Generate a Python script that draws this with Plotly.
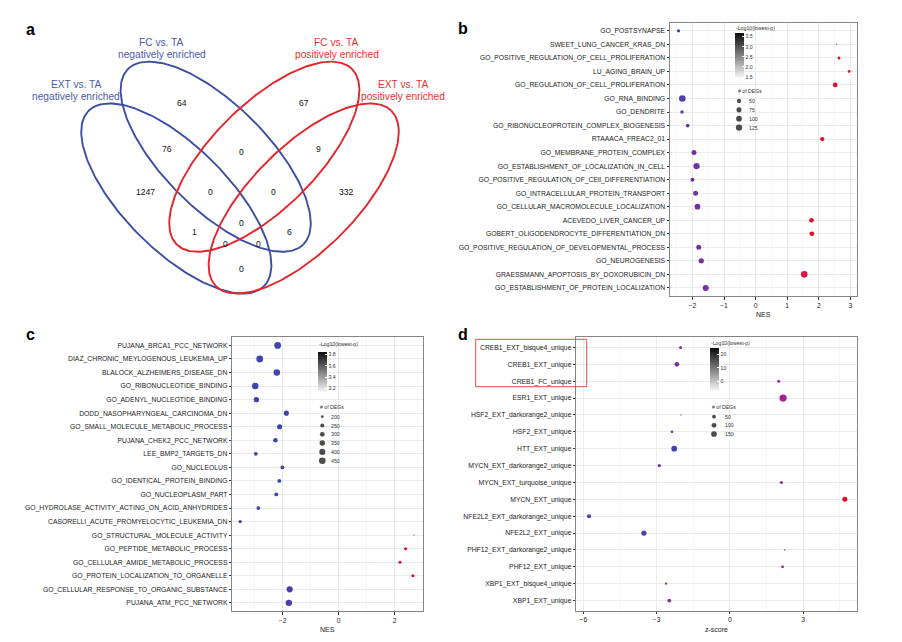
import numpy as np
import plotly.graph_objects as go

W, H = 902, 642
FONT = "Liberation Sans, Arial, Helvetica, sans-serif"

# ---------------- Panel a : Venn ----------------
venn_counts = [64, 67, 76, 0, 9, 1247, 0, 0, 332, 0, 1, 6, 0, 0, 0]
venn_count_pos = [(182.3, 103.3), (304.3, 103.3), (166.7, 149), (241.7, 151.7), (318.3, 149),
                  (145, 191.7), (210, 192.3), (273.3, 192.3), (346, 191.7), (241.7, 222.7),
                  (194, 231.7), (289.3, 231.7), (225, 244.3), (258.3, 244.3), (241.7, 269.3)]
venn_set_lines = [["FC vs. TA", "negatively enriched"], ["EXT vs. TA", "negatively enriched"],
                  ["FC vs. TA", "positively enriched"], ["EXT vs. TA", "positively enriched"]]

# ---------------- Panel b ----------------
b_terms = ["GO_POSTSYNAPSE", "SWEET_LUNG_CANCER_KRAS_DN", "GO_POSITIVE_REGULATION_OF_CELL_PROLIFERATION",
           "LU_AGING_BRAIN_UP", "GO_REGULATION_OF_CELL_PROLIFERATION", "GO_RNA_BINDING", "GO_DENDRITE",
           "GO_RIBONUCLEOPROTEIN_COMPLEX_BIOGENESIS", "RTAAACA_FREAC2_01", "GO_MEMBRANE_PROTEIN_COMPLEX",
           "GO_ESTABLISHMENT_OF_LOCALIZATION_IN_CELL", "GO_POSITIVE_REGULATION_OF_CEll_DIFFERENTIATION",
           "GO_INTRACELLULAR_PROTEIN_TRANSPORT", "GO_CELLULAR_MACROMOLECULE_LOCALIZATION",
           "ACEVEDO_LIVER_CANCER_UP", "GOBERT_OLIGODENDROCYTE_DIFFERENTIATION_DN",
           "GO_POSITIVE_REGULATION_OF_DEVELOPMENTAL_PROCESS", "GO_NEUROGENESIS",
           "GRAESSMANN_APOPTOSIS_BY_DOXORUBICIN_DN", "GO_ESTABLISHMENT_OF_PROTEIN_LOCALIZATION"]
b_nes = [-2.44, 2.57, 2.64, 2.96, 2.52, -2.32, -2.33, -2.15, 2.11, -1.95,
         -1.87, -2.00, -1.90, -1.84, 1.77, 1.78, -1.80, -1.72, 1.54, -1.58]
b_logp = [1.44, 3.66, 3.64, 3.66, 3.62, 1.77, 2.10, 2.10, 3.62, 2.22,
          2.22, 2.22, 2.22, 2.26, 3.62, 3.62, 2.33, 2.33, 3.45, 2.37]
b_degs = [25, 5, 20, 15, 62, 140, 29, 34, 50, 72,
          125, 41, 72, 99, 62, 62, 72, 83, 138, 112]
b_size_breaks = [50, 75, 100, 125]
b_color_ticks = [1.5, 2.0, 2.5, 3.0, 3.5]
b_color_range = [1.44, 3.66]

# ---------------- Panel c ----------------
c_terms = ["PUJANA_BRCA1_PCC_NETWORK", "DIAZ_CHRONIC_MEYLOGENOUS_LEUKEMIA_UP", "BLALOCK_ALZHEIMERS_DISEASE_DN",
           "GO_RIBONUCLEOTIDE_BINDING", "GO_ADENYL_NUCLEOTIDE_BINDING", "DODD_NASOPHARYNGEAL_CARCINOMA_DN",
           "GO_SMALL_MOLECULE_METABOLIC_PROCESS", "PUJANA_CHEK2_PCC_NETWORK", "LEE_BMP2_TARGETS_DN",
           "GO_NUCLEOLUS", "GO_IDENTICAL_PROTEIN_BINDING", "GO_NUCLEOPLASM_PART",
           "GO_HYDROLASE_ACTIVITY_ACTING_ON_ACID_ANHYDRIDES", "CASORELLI_ACUTE_PROMYELOCYTIC_LEUKEMIA_DN",
           "GO_STRUCTURAL_MOLECULE_ACTIVITY", "GO_PEPTIDE_METABOLIC_PROCESS",
           "GO_CELLULAR_AMIDE_METABOLIC_PROCESS", "GO_PROTEIN_LOCALIZATION_TO_ORGANELLE",
           "GO_CELLULAR_RESPONSE_TO_ORGANIC_SUBSTANCE", "PUJANA_ATM_PCC_NETWORK"]
c_nes = [-2.18, -2.82, -2.21, -2.98, -2.94, -1.87, -2.11, -2.26, -2.96, -2.01,
         -2.12, -2.23, -2.87, -3.52, 2.69, 2.39, 2.19, 2.65, -1.75, -1.78]
c_logp = [3.15, 3.15, 3.15, 3.15, 3.15, 3.15, 3.15, 3.15, 3.15, 3.15,
          3.15, 3.15, 3.15, 3.15, 3.835, 3.835, 3.835, 3.835, 3.24, 3.24]
c_degs = [465, 470, 438, 438, 347, 324, 324, 276, 242, 242,
          242, 242, 242, 224, 180, 212, 212, 212, 409, 438]
c_size_breaks = [200, 250, 300, 350, 400, 450]
c_color_ticks = [3.2, 3.4, 3.6, 3.8]
c_color_range = [3.135, 3.835]

# ---------------- Panel d ----------------
d_terms = ["CREB1_EXT_bisque4_unique", "CREB1_EXT_unique", "CREB1_FC_unique", "ESR1_EXT_unique",
           "HSF2_EXT_darkorange2_unique", "HSF2_EXT_unique", "HTT_EXT_unique",
           "MYCN_EXT_darkorange2_unique", "MYCN_EXT_turquoise_unique", "MYCN_EXT_unique",
           "NFE2L2_EXT_darkorange2_unique", "NFE2L2_EXT_unique", "PHF12_EXT_darkorange2_unique",
           "PHF12_EXT_unique", "XBP1_EXT_bisque4_unique", "XBP1_EXT_unique"]
d_z = [-2.02, -2.17, 2.00, 2.18, -2.00, -2.37, -2.28, -2.89, 2.11, 4.71,
       -5.77, -3.52, 2.25, 2.16, -2.61, -2.48]
d_logp = [6.9, 6.9, 11.7, 13.3, 8.5, 5.9, -5.9, 5.9, 12.3, 24.5,
          -2.7, -2.7, 12.3, 12.3, 6.9, 6.9]
d_degs = [25, 90, 25, 260, 2, 18, 147, 34, 25, 105, 58, 122, 3, 18, 11, 47]
d_size_breaks = [50, 100, 150]
d_color_ticks = [0, 10, 20]
d_color_range = [-7.5, 24.5]

# ---------------- styling ----------------
POINT_SCALE = [[0.0, "#3A46AE"], [0.3, "#6535A4"], [0.55, "#93289B"], [0.75, "#BA148C"],
               [0.9, "#DE0E4C"], [1.0, "#E80C28"]]
GREY_SCALE = [[0.0, "#F8F8F8"], [1.0, "#0A0A0A"]]
BLUE_LINE, RED_LINE = "#3C4EA3", "#E3262B"
BLUE_TXT, RED_TXT = "#4A5BAA", "#E2332F"


def px2fx(px):
    return px / W


def px2fy(py):
    return 1 - py / H


def size_scale(values, dmin, dmax):
    lo, hi = min(values), max(values)
    def f(n):
        r = np.clip((np.asarray(n, float) - lo) / (hi - lo), 0, 1)
        return dmin + (dmax - dmin) * np.sqrt(r)
    return f


fig = go.Figure()

panels = [
    dict(ax="", terms=b_terms, x=b_nes, c=b_logp, n=b_degs, crange=b_color_range, dmax=6.6,
         box=(670, 22.7, 857.3, 296), xr=(-2.71, 3.22), major=[-2, -1, 0, 1, 2, 3],
         minor=[-2.5, -1.5, -0.5, 0.5, 1.5, 2.5], xtitle="NES",
         cbar=dict(left=734.7, top=33.3, len=45, thick=8.6, ticks=b_color_ticks,
                   text=["1.5", "2.0", "2.5", "3.0", "3.5"], title_y=28.3),
         sleg=dict(breaks=b_size_breaks, cx=739, y0=101, dy=8.85, tx=746.5, title_y=91, title_x=735.5)),
    dict(ax="2", terms=c_terms, x=c_nes, c=c_logp, n=c_degs, crange=c_color_range, dmax=6.8,
         box=(232.3, 337.3, 422.7, 611), xr=(-3.80, 3.00), major=[-2, 0, 2],
         minor=[-3, -1, 1, 3], xtitle="NES",
         cbar=dict(left=317.5, top=352.3, len=39.7, thick=8.7, ticks=c_color_ticks,
                   text=["3.2", "3.4", "3.6", "3.8"], title_y=343.5),
         sleg=dict(breaks=c_size_breaks, cx=322.3, y0=416.7, dy=8.8, tx=329.3, title_y=406.7, title_x=317.5)),
    dict(ax="3", terms=d_terms, x=d_z, c=d_logp, n=d_degs, crange=d_color_range, dmax=7.2,
         box=(576.3, 337.3, 857.3, 610.7), xr=(-6.29, 5.22), major=[-6, -3, 0, 3],
         minor=[-4.5, -1.5, 1.5, 4.5], xtitle="z-score",
         cbar=dict(left=709.5, top=348.3, len=42.7, thick=8.5, ticks=d_color_ticks,
                   text=["0", "10", "20"], title_y=342.7),
         sleg=dict(breaks=d_size_breaks, cx=714, y0=416.7, dy=8.65, tx=723, title_y=406.7, title_x=709.5)),
]

layout_axes = {}
annotations = []
overlay_traces = []

for p in panels:
    xa, ya = "x" + p["ax"], "y" + p["ax"]
    sfun = size_scale(p["n"], 1.2, p["dmax"])
    fig.add_trace(go.Scatter(
        x=p["x"], y=p["terms"], xaxis=xa, yaxis=ya, mode="markers",
        marker=dict(size=sfun(p["n"]), color=p["c"], colorscale=POINT_SCALE,
                    cmin=p["crange"][0], cmax=p["crange"][1], line=dict(width=0), opacity=1),
        showlegend=False, hoverinfo="skip"))
    cb = p["cbar"]
    fig.add_trace(go.Scatter(
        x=[None], y=[None], xaxis=xa, yaxis=ya, mode="markers",
        marker=dict(color=[p["crange"][0]], colorscale=GREY_SCALE, cmin=p["crange"][0],
                    cmax=p["crange"][1], showscale=True,
                    colorbar=dict(x=px2fx(cb["left"]), xanchor="left", y=px2fy(cb["top"]), yanchor="top",
                                  len=cb["len"], lenmode="pixels", thickness=cb["thick"],
                                  thicknessmode="pixels", xpad=0, ypad=0, outlinewidth=0,
                                  tickvals=cb["ticks"], ticktext=cb["text"], ticks="inside",
                                  ticklen=2, tickwidth=0.6, tickcolor="white",
                                  tickfont=dict(size=5.2, color="#333333", family=FONT))),
        showlegend=False, hoverinfo="skip"))
    annotations.append(dict(text="-Log10(lowest-p)", xref="paper", yref="paper",
                            x=px2fx(cb["left"] - 0.5), y=px2fy(cb["title_y"]), xanchor="left",
                            yanchor="middle", showarrow=False,
                            font=dict(size=5.2, color="#333333", family=FONT)))
    # size legend
    sl = p["sleg"]
    ys = [sl["y0"] + i * sl["dy"] for i in range(len(sl["breaks"]))]
    overlay_traces.append(go.Scatter(
        x=[sl["cx"]] * len(ys), y=ys, mode="markers", xaxis="x4", yaxis="y4",
        marker=dict(size=sfun(sl["breaks"]), color="black", line=dict(width=0)),
        showlegend=False, hoverinfo="skip"))
    for yv, br in zip(ys, sl["breaks"]):
        annotations.append(dict(text=str(br), xref="x4", yref="y4", x=sl["tx"], y=yv,
                                xanchor="left", yanchor="middle", showarrow=False,
                                font=dict(size=5.2, color="#333333", family=FONT)))
    annotations.append(dict(text="# of DEGs", xref="x4", yref="y4", x=sl["title_x"], y=sl["title_y"],
                            xanchor="left", yanchor="middle", showarrow=False,
                            font=dict(size=5.2, color="#333333", family=FONT)))
    x0, y0, x1, y1 = p["box"]
    n = len(p["terms"])
    axkey = "xaxis" + p["ax"]
    aykey = "yaxis" + p["ax"]
    layout_axes[axkey] = dict(
        domain=[px2fx(x0), px2fx(x1)], anchor=ya, range=list(p["xr"]), tickvals=p["major"],
        ticks="outside", ticklen=2.5, tickwidth=0.6, tickcolor="#333333",
        showline=True, mirror=True, linecolor="#858585", linewidth=1,
        showgrid=True, gridcolor="#EBEBEB", gridwidth=0.6, zeroline=False,
        tickfont=dict(size=6.8, color="#1a1a1a", family=FONT), automargin=False,
        minor=dict(tickvals=p["minor"], showgrid=True, gridcolor="#F4F4F4", gridwidth=0.4, ticks=""),
        fixedrange=True)
    layout_axes[aykey] = dict(
        domain=[px2fy(y1), px2fy(y0)], anchor=xa, type="category", categoryorder="array",
        categoryarray=p["terms"], range=[n - 0.4, -0.6],
        ticks="outside", ticklen=2.5, tickwidth=0.6, tickcolor="#333333",
        showline=True, mirror=True, linecolor="#858585", linewidth=1,
        showgrid=True, gridcolor="#EBEBEB", gridwidth=0.6, zeroline=False,
        tickfont=dict(size=6.8, color="#1a1a1a", family=FONT), automargin=False, fixedrange=True)
    annotations.append(dict(text=p["xtitle"], xref="paper", yref="paper",
                            x=px2fx((x0 + x1) / 2), y=px2fy(y1 + 18.5), xanchor="center",
                            yanchor="middle", showarrow=False,
                            font=dict(size=7, color="#1a1a1a", family=FONT)))

# ---------------- Venn ellipses on the overlay axis ----------------
ELL_A, ELL_B = 124, 52
ellipses = [(176.3, 198.5, 1, BLUE_LINE), (215.7, 156.7, 1, BLUE_LINE),
            (264.3, 156.7, -1, RED_LINE), (303.7, 198.5, -1, RED_LINE)]
t = np.linspace(0, 2 * np.pi, 240)
cs = np.sqrt(0.5)
for cx, cy, sg, col in ellipses:
    ex = cx + ELL_A * np.cos(t) * cs - sg * ELL_B * np.sin(t) * cs
    ey = cy + sg * ELL_A * np.cos(t) * cs + ELL_B * np.sin(t) * cs
    fig.add_trace(go.Scatter(x=ex, y=ey, mode="lines", xaxis="x4", yaxis="y4",
                             line=dict(color=col, width=1.9), showlegend=False, hoverinfo="skip"))
for tr in overlay_traces:
    fig.add_trace(tr)

for cnt, (vx, vy) in zip(venn_counts, venn_count_pos):
    annotations.append(dict(text=str(cnt), xref="x4", yref="y4", x=vx, y=vy, xanchor="center",
                            yanchor="middle", showarrow=False,
                            font=dict(size=8.6, color="#111111", family=FONT)))

set_label_pos = [(161.5, 42.7, 54.3, BLUE_TXT), (76.2, 84.3, 96.5, BLUE_TXT),
                 (336.5, 42.7, 54.3, RED_TXT), (403.0, 84.3, 96.5, RED_TXT)]
for lines, (lx, ly1, ly2, col) in zip(venn_set_lines, set_label_pos):
    for txt, ly in zip(lines, (ly1, ly2)):
        annotations.append(dict(text=txt, xref="x4", yref="y4", x=lx, y=ly, xanchor="center",
                                yanchor="middle", showarrow=False,
                                font=dict(size=10.2, color=col, family=FONT)))

# panel letters
for letter, (lx, ly) in zip("abcd", [(30, 29), (463, 28.5), (30, 334), (463, 334)]):
    annotations.append(dict(text="<b>%s</b>" % letter, xref="x4", yref="y4", x=lx, y=ly,
                            xanchor="center", yanchor="middle", showarrow=False,
                            font=dict(size=16, color="#000000", family=FONT)))

layout_axes["xaxis4"] = dict(domain=[0, 1], anchor="y4", range=[0, W], visible=False, fixedrange=True)
layout_axes["yaxis4"] = dict(domain=[0, 1], anchor="x4", range=[H, 0], visible=False, fixedrange=True)

fig.update_layout(
    width=W, height=H, margin=dict(l=0, r=0, t=0, b=0),
    paper_bgcolor="white", plot_bgcolor="rgba(0,0,0,0)",
    showlegend=False, annotations=annotations,
    shapes=[dict(type="rect", xref="x4", yref="y4", x0=475.7, y0=339.3, x1=586.7, y1=386.7,
                 line=dict(color="#D9534F", width=1), layer="above")],
    font=dict(family=FONT),
    **layout_axes)

# remove the browser's default 8px page margin so the figure sits at the window origin
fig.write_html("out.html", config={"displayModeBar": False},
               post_script="document.body.style.margin='0';document.body.style.padding='0';"
                           "document.documentElement.style.overflow='hidden';")
